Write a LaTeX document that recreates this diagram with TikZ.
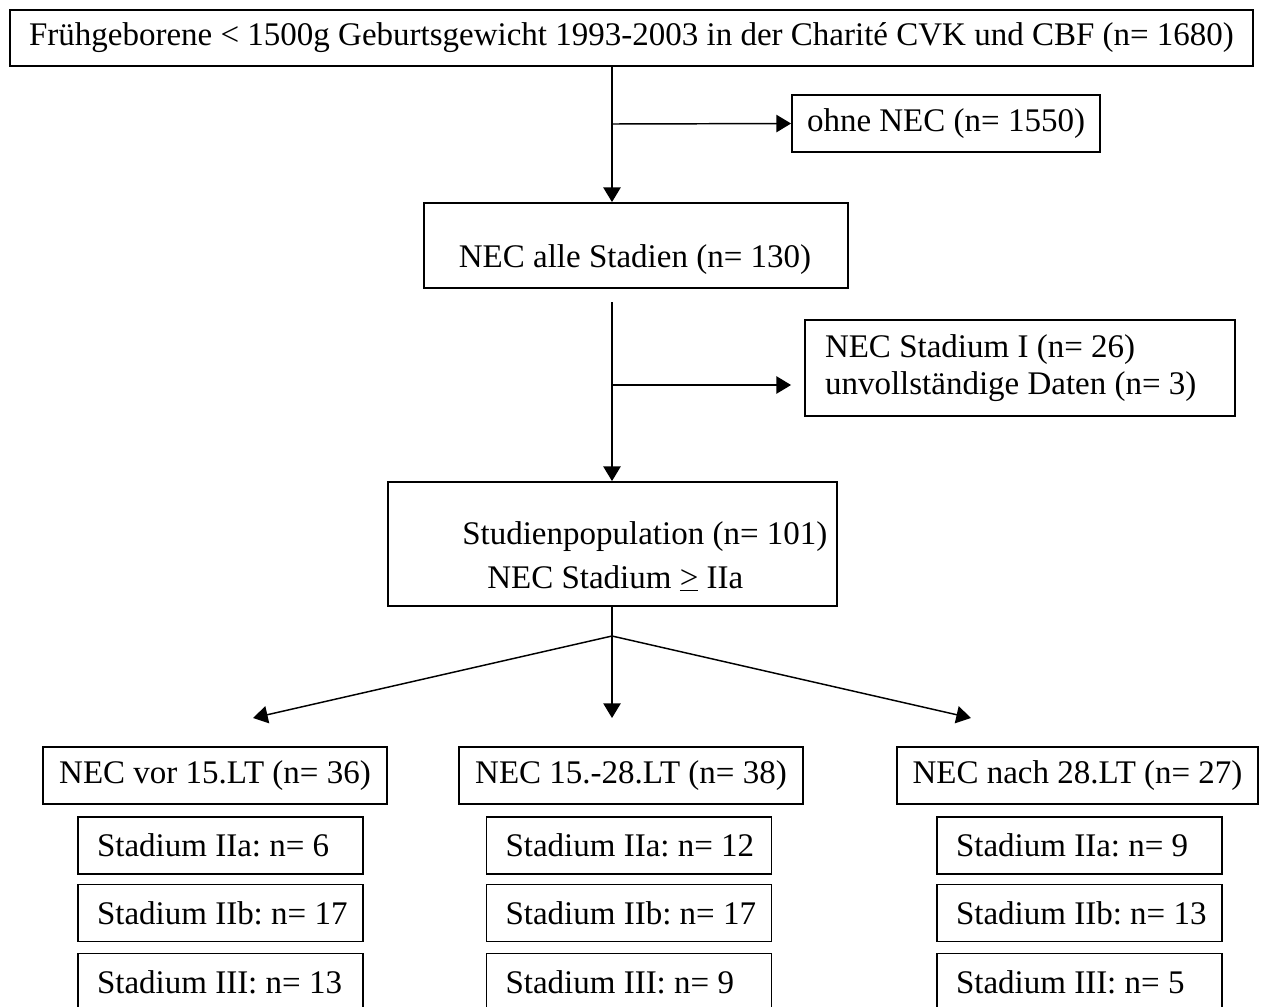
\documentclass[tikz,border=0pt]{standalone}
\usepackage{fontspec}
\setmainfont{Liberation Serif}
\usetikzlibrary{arrows.meta}
\newcommand{\sublabel}[1]{\makebox[247\mypx][l]{#1}}
\newlength{\mypx}\setlength{\mypx}{0.75pt}
\begin{document}
\begin{tikzpicture}[x=0.75pt,y=-0.75pt,
  every node/.style={font=\fontsize{24.75}{27.75}\selectfont\frenchspacing},
  bx/.style 2 args={draw, line width=1.4pt, inner sep=0pt,
    minimum width=#1*0.75pt, minimum height=#2*0.75pt},
  subbx/.style={bx={285}{57}, inner xsep=19*0.75pt},
  txt/.style={inner sep=0pt},
  ln/.style={line width=1.1pt},
  arr/.style={ln, -{Triangle[length=11pt, width=13pt]}}]
\clip (0,0) rectangle (1261,1007);
% top part
\node[bx={1243}{56}] (top) at (631.5,38) {Frühgeborene < 1500g Geburtsgewicht 1993-2003 in der Charité CVK und CBF (n= 1680)};
\node[bx={308}{57}] (ohne) at (946,123.5) {ohne NEC (n= 1550)};
\node[bx={424}{85}] (nec) at (636,245.5) {};
\node[txt, anchor=base] (necT) at (635,267) {NEC alle Stadien (n= 130)};
\node[bx={430}{96}, align=flush left, text width=390*0.75pt, inner xsep=20*0.75pt] (st1) at (1020,368)
  {NEC Stadium I (n= 26)\\unvollständige Daten (n= 3)};
\node[bx={449}{124}] (stud) at (612.5,544) {};
\node[txt, anchor=base west] (studA) at (462,544) {Studienpopulation (n= 101)};
\node[txt, anchor=base west] (studB) at (487,588) {NEC Stadium \underline{>} IIa};
% connectors
\coordinate (j1) at (612,124);
\coordinate (j2) at (612,385);
\coordinate (j2s) at (612,302);
\coordinate (j3) at (612,636);
\draw[arr] (j1 |- top.south) -- (j1 |- nec.north);
\draw[arr] (j1) -- (ohne.west);
\draw[arr] (j2s) -- (j2 |- stud.north);
\draw[arr, shorten >=13*0.75pt] (j2) -- (j2 -| st1.west);
\coordinate (e1) at (253,718);
\coordinate (e2) at (612,718);
\coordinate (e3) at (971,718);
\draw[ln] (j3 |- stud.south) -- (j3);
\draw[arr] (j3) -- (e1);
\draw[arr] (j3) -- (e2);
\draw[arr] (j3) -- (e3);
% bottom headers
\node[bx={344}{57}] (h1) at (215,775.5) {NEC vor 15.LT (n= 36)};
\node[bx={344}{57}] (h2) at (631,775.5) {NEC 15.-28.LT (n= 38)};
\node[bx={361}{57}] (h3) at (1077.5,775.5) {NEC nach 28.LT (n= 27)};
% sub boxes
\node[subbx] (a1) at (220.5,845.5) {\sublabel{Stadium IIa: n= 6}};
\node[subbx] (a2) at (220.5,913) {\sublabel{Stadium IIb: n= 17}};
\node[subbx] (a3) at (220.5,982) {\sublabel{Stadium III: n= 13}};
\node[subbx] (b1) at (629,845.5) {\sublabel{Stadium IIa: n= 12}};
\node[subbx] (b2) at (629,913) {\sublabel{Stadium IIb: n= 17}};
\node[subbx] (b3) at (629,982) {\sublabel{Stadium III: n= 9}};
\node[subbx] (c1) at (1079.5,845.5) {\sublabel{Stadium IIa: n= 9}};
\node[subbx] (c2) at (1079.5,913) {\sublabel{Stadium IIb: n= 13}};
\node[subbx] (c3) at (1079.5,982) {\sublabel{Stadium III: n= 5}};
\end{tikzpicture}
\end{document}
